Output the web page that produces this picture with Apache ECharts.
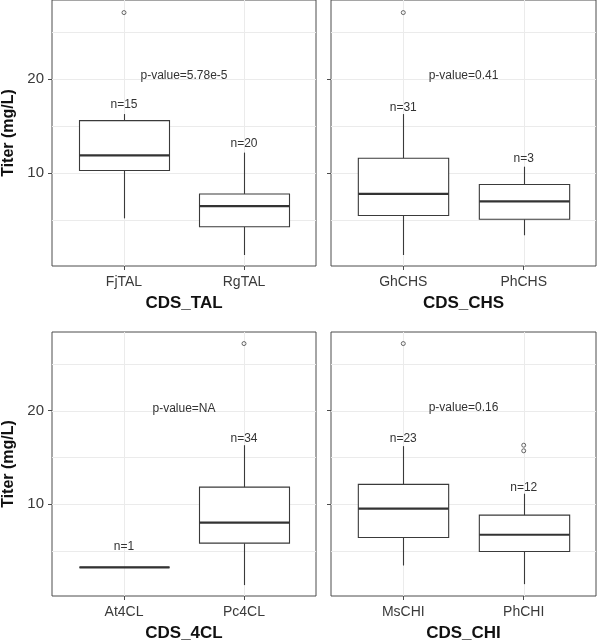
<!DOCTYPE html>
<html>
<head>
<meta charset="utf-8">
<script src="https://cdn.jsdelivr.net/npm/echarts@6/dist/echarts.min.js"></script>
<style>html,body{margin:0;padding:0;background:#fff;}#c{width:597px;height:643px;}</style>
</head>
<body>
<div id="c"></div>
<script>
// ---- data ----
const panelTitles = ['CDS_TAL', 'CDS_CHS', 'CDS_4CL', 'CDS_CHI'];
const categories = [['FjTAL', 'RgTAL'], ['GhCHS', 'PhCHS'], ['At4CL', 'Pc4CL'], ['MsCHI', 'PhCHI']];
// [lower whisker, Q1, median, Q3, upper whisker]
const statsTAL = [[5.2, 10.3, 11.9, 15.6, 16.3], [1.3, 4.3, 6.5, 7.8, 12.2]];
const statsCHS = [[1.3, 5.5, 7.8, 11.6, 16.3], [3.4, 5.1, 7.0, 8.8, 10.7]];
const stats4CL = [[3.2, 3.2, 3.2, 3.2, 3.2], [1.3, 5.8, 8.0, 11.8, 16.3]];
const statsCHI = [[3.4, 6.4, 9.5, 12.1, 16.2], [1.4, 4.9, 6.7, 8.8, 11.1]];
// outliers: [category position, value]
const outTAL = [[1, 27.1]];
const outCHS = [[1, 27.1]];
const out4CL = [[2, 27.2]];
const outCHI = [[1, 27.2], [2, 16.3], [2, 15.7]];
const counts = [[15, 20], [31, 3], [1, 34], [23, 12]];
const countLabelY = [[17.3, 13.2], [17.0, 11.5], [5.4, 17.0], [17.05, 11.7]];
const pValues = ['5.78e-5', '0.41', 'NA', '0.16'];
const pValueY = [20.35, 20.43, 20.18, 20.32];
const yTicks = [10, 20];
const yGridMinor = [5, 15, 25];
const yRange = [0.13, 28.44];
const xRange = [0.4, 2.6];

const allStats = [statsTAL, statsCHS, stats4CL, statsCHI];
const allOut = [outTAL, outCHS, out4CL, outCHI];

// ---- layout ----
const FONT = 'Liberation Sans, Arial, sans-serif';
const gridPos = [
  {left: 52, top: 0, width: 264, height: 266},
  {left: 331, top: 0, width: 265, height: 266},
  {left: 52, top: 332, width: 264, height: 265},
  {left: 331, top: 332, width: 265, height: 265}
];

const grids = [], xAxes = [], yAxes = [], series = [];
for (let i = 0; i < 4; i++) {
  const isLeft = (i % 2 === 0);
  const cats = categories[i];
  grids.push(Object.assign({show: true, borderColor: '#4d4d4d', borderWidth: 1, backgroundColor: '#fff'}, gridPos[i]));
  xAxes.push({
    gridIndex: i, type: 'value', min: xRange[0], max: xRange[1],
    axisLine: {show: false}, splitLine: {show: false},
    axisTick: {show: true, customValues: [1, 2], length: 4, lineStyle: {color: '#4d4d4d'}},
    axisLabel: {customValues: [1, 2], formatter: v => cats[Math.round(v) - 1] || '', color: '#3a3a3a', fontSize: 14, fontFamily: FONT, margin: 9},
    name: panelTitles[i], nameLocation: 'middle', nameGap: 29,
    nameTextStyle: {fontSize: 17, fontWeight: 'bold', color: '#111', fontFamily: FONT}
  });
  yAxes.push({
    gridIndex: i, type: 'value', min: yRange[0], max: yRange[1],
    axisLine: {show: false}, splitLine: {show: false},
    axisTick: {show: true, customValues: yTicks, length: 4, lineStyle: {color: '#4d4d4d'}},
    axisLabel: {show: isLeft, customValues: yTicks, color: '#3a3a3a', fontSize: 15, fontFamily: FONT, margin: 8},
    name: isLeft ? 'Titer (mg/L)' : '', nameLocation: 'middle', nameGap: 35, nameRotate: 90,
    nameTextStyle: {fontSize: 16, fontWeight: 'bold', color: '#111', fontFamily: FONT}
  });

  // grid lines
  const gridData = [];
  yGridMinor.forEach(v => gridData.push(['h', v]));
  yTicks.forEach(v => gridData.push(['h', v]));
  [1, 2].forEach(v => gridData.push(['v', v]));
  series.push({
    type: 'custom', xAxisIndex: i, yAxisIndex: i, z: 1, silent: true,
    data: gridData.map(d => [d[0] === 'v' ? d[1] : 1, d[0] === 'h' ? d[1] : 10]),
    encode: {x: 0, y: 1},
    renderItem: function (params, api) {
      const cs = params.coordSys;
      const item = gridData[params.dataIndex];
      if (item[0] === 'h') {
        const p = api.coord([1, item[1]]);
        const y = Math.round(p[1]) + 0.5;
        return {type: 'line', shape: {x1: cs.x, y1: y, x2: cs.x + cs.width, y2: y}, style: {stroke: '#ebebeb', lineWidth: 1}};
      } else {
        const p = api.coord([item[1], 10]);
        const x = Math.round(p[0]) + 0.5;
        return {type: 'line', shape: {x1: x, y1: cs.y, x2: x, y2: cs.y + cs.height}, style: {stroke: '#ebebeb', lineWidth: 1}};
      }
    }
  });

  // boxes
  const boxData = allStats[i].map((s, k) => [k + 1].concat(s));
  series.push({
    type: 'custom', xAxisIndex: i, yAxisIndex: i, z: 3, silent: true,
    data: boxData,
    encode: {x: 0, y: [1, 2, 3, 4, 5]},
    renderItem: function (params, api) {
      const x = api.value(0);
      const lo = api.coord([x, api.value(1)]);
      const q1 = api.coord([x, api.value(2)]);
      const md = api.coord([x, api.value(3)]);
      const q3 = api.coord([x, api.value(4)]);
      const hi = api.coord([x, api.value(5)]);
      const hw = api.size([0.75, 0])[0] / 2;
      const cx = Math.round(lo[0]) + 0.5;
      const st = {stroke: '#3a3a3a', lineWidth: 1.1};
      return {
        type: 'group', children: [
          {type: 'line', shape: {x1: cx, y1: hi[1], x2: cx, y2: q3[1]}, style: st},
          {type: 'line', shape: {x1: cx, y1: q1[1], x2: cx, y2: lo[1]}, style: st},
          {type: 'rect', shape: {x: cx - hw, y: q3[1], width: 2 * hw, height: q1[1] - q3[1]}, style: {fill: '#fff', stroke: '#3a3a3a', lineWidth: 1.1}},
          {type: 'line', shape: {x1: cx - hw, y1: md[1], x2: cx + hw, y2: md[1]}, style: {stroke: '#333', lineWidth: 2.2}}
        ]
      };
    }
  });

  // outliers
  series.push({
    type: 'scatter', xAxisIndex: i, yAxisIndex: i, z: 4, silent: true,
    symbol: 'circle', symbolSize: 4,
    itemStyle: {color: 'rgba(0,0,0,0)', borderColor: '#444', borderWidth: 1},
    data: allOut[i]
  });

  // texts
  const textData = [
    {value: [1, countLabelY[i][0]], text: 'n=' + counts[i][0]},
    {value: [2, countLabelY[i][1]], text: 'n=' + counts[i][1]},
    {value: [1.5, pValueY[i]], text: 'p-value=' + pValues[i]}
  ];
  series.push({
    type: 'custom', xAxisIndex: i, yAxisIndex: i, z: 5, silent: true,
    data: textData.map(t => t.value),
    encode: {x: 0, y: 1},
    renderItem: function (params, api) {
      const p = api.coord([api.value(0), api.value(1)]);
      return {type: 'text', x: p[0], y: p[1], style: {text: textData[params.dataIndex].text, align: 'center', verticalAlign: 'middle', fill: '#333', font: '12px ' + FONT}};
    }
  });
}

const chart = echarts.init(document.getElementById('c'), null, {renderer: 'canvas'});
chart.setOption({
  animation: false,
  backgroundColor: '#fff',
  grid: grids, xAxis: xAxes, yAxis: yAxes, series: series
});
</script>
</body>
</html>
